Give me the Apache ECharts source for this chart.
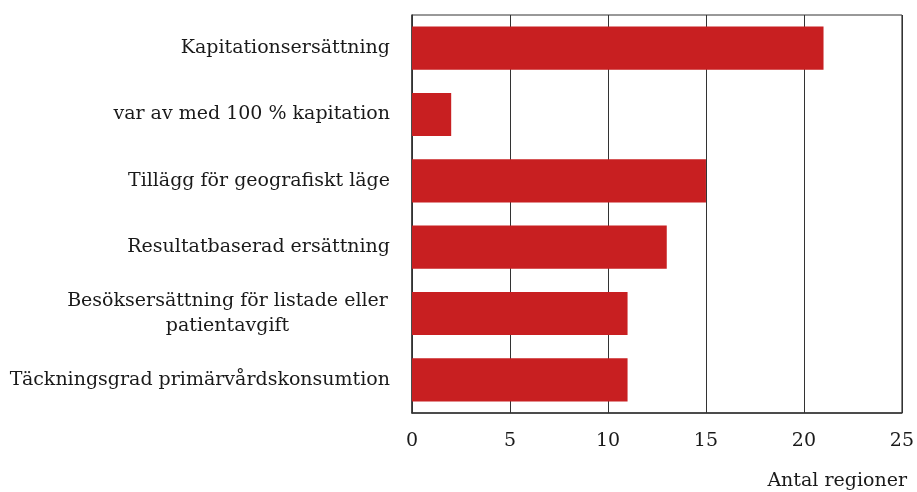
<!DOCTYPE html>
<html>
<head>
<meta charset="utf-8">
<script src="https://cdn.jsdelivr.net/npm/echarts@6/dist/echarts.min.js"></script>
<style>
html, body { margin: 0; padding: 0; background: #fff; }
#main { width: 917px; height: 492px; }
</style>
</head>
<body>
<div id="main"></div>
<script>
// kategorier, uppifrån och ned
var categories = [
    'Kapitationsersättning',
    'var av med 100 % kapitation',
    'Tillägg för geografiskt läge',
    'Resultatbaserad ersättning',
    'Besöksersättning för listade eller\npatientavgift',
    'Täckningsgrad primärvårdskonsumtion'
];
// antal regioner per kategori
var values = [21, 2, 15, 13, 11, 11];
// x-axelns skala
var xTicks = [0, 5, 10, 15, 20, 25];
var axisName = 'Antal regioner';

var font = 'DejaVu Serif';
var textColor = '#1a1a1a';
var lineColor = '#333';

var chart = echarts.init(document.getElementById('main'));
chart.setOption({
    animation: false,
    textStyle: { fontFamily: font },
    title: {
        text: axisName,
        right: 5,
        bottom: -4,
        textStyle: { fontFamily: font, fontSize: 19, fontWeight: 'normal', color: textColor }
    },
    grid: {
        left: 412, right: 14, top: 15, bottom: 79,
        show: true, borderColor: lineColor, borderWidth: 1
    },
    xAxis: {
        type: 'value',
        min: xTicks[0],
        max: xTicks[xTicks.length - 1],
        interval: 5,
        axisLine: { show: true, lineStyle: { color: lineColor, width: 1.5 } },
        axisTick: { show: true, inside: true, length: 10, lineStyle: { color: lineColor } },
        splitLine: { show: true, lineStyle: { color: lineColor, width: 1 } },
        axisLabel: { fontSize: 19, color: textColor, margin: 19 }
    },
    yAxis: {
        type: 'category',
        inverse: true,
        data: categories,
        axisLine: { show: true, lineStyle: { color: lineColor, width: 1.5 } },
        axisTick: { show: false },
        axisLabel: {
            fontSize: 19, color: textColor, margin: 22, lineHeight: 25, align: 'right',
            //radbrutna etiketter centreras inom blocket
            formatter: function (v) {
                if (v.indexOf('\n') < 0) {
                    return v;
                }
                return v.split('\n').map(function (s) {
                    return '{c|' + s + '}';
                }).join('\n');
            },
            rich: {
                c: { width: 325, align: 'center', fontSize: 19, lineHeight: 25, color: textColor }
            }
        }
    },
    series: [{
        type: 'bar',
        data: values,
        barWidth: '65%',
        itemStyle: { color: '#c81f21' },
        z: 3
    }]
});
</script>
</body>
</html>
